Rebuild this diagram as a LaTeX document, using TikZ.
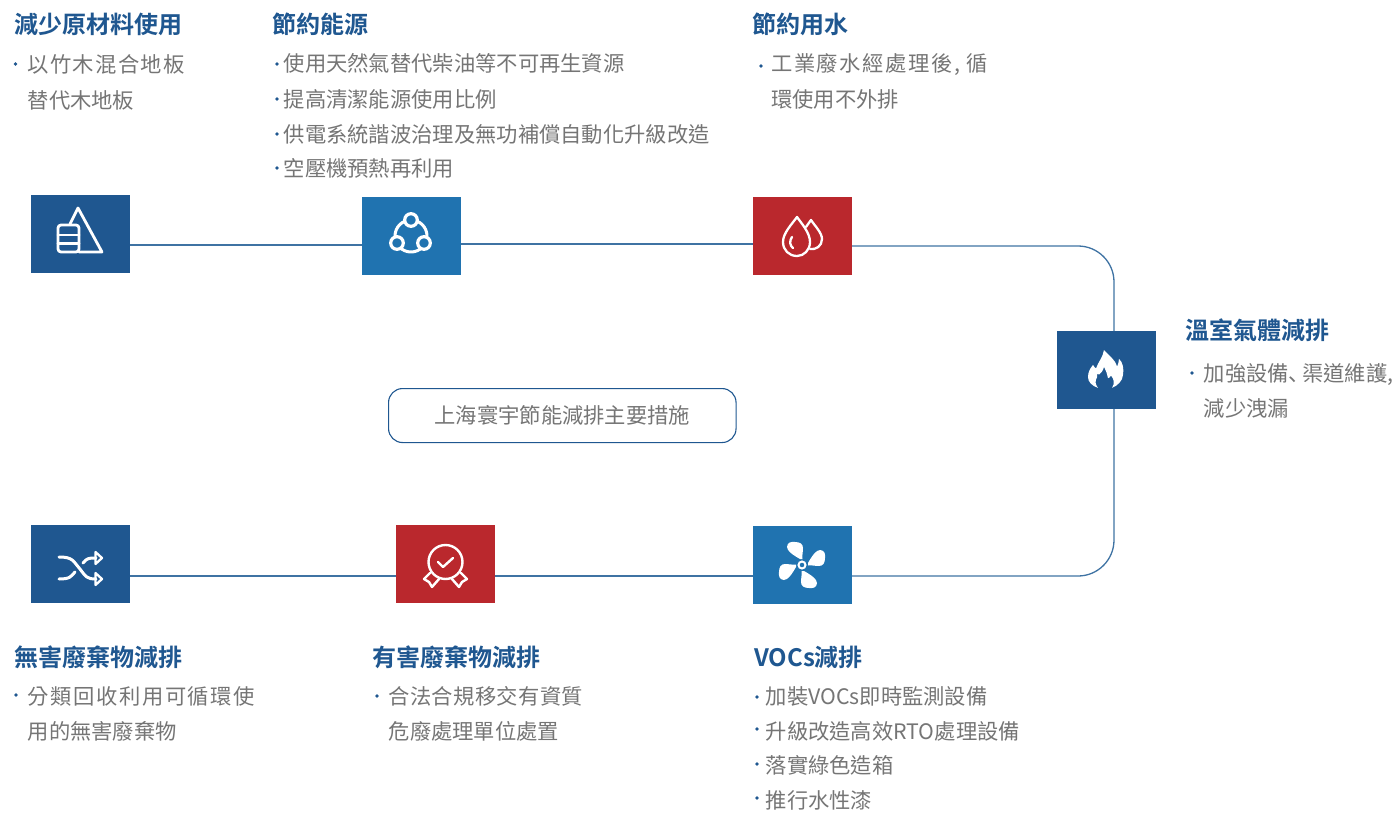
\documentclass[tikz,border=0pt]{standalone}
\usepackage{fontspec}
\setmainfont{Noto Sans CJK TC}[BoldFont={Noto Sans CJK TC Bold}]
\newfontfamily\scfont{Noto Sans CJK SC}
\definecolor{navy}{HTML}{1F5790}
\definecolor{midblue}{HTML}{2073B0}
\definecolor{brick}{HTML}{BA282D}
\definecolor{linec}{HTML}{3F73A3}
\definecolor{bodyc}{HTML}{757575}
\tikzset{
 ibox/.style={minimum width=99pt,minimum height=78pt,inner sep=0,outer sep=0,anchor=north west},
 conn/.style={draw=linec,line width=1.3pt},
 ttl/.style={anchor=base west,inner sep=0,text=navy,font=\fontsize{24}{24}\selectfont\bfseries},
 bd/.style={anchor=base west,inner sep=0,text=bodyc,font=\fontsize{21.3}{21.3}\selectfont},
 dotb/.style={fill=navy,draw=none,circle,minimum size=3.6pt,inner sep=0},
 ico/.style={draw=white,line width=2.8pt,line join=round,line cap=round},
}
\begin{document}
\begin{tikzpicture}[x=1pt,y=-1pt]
\useasboundingbox (0,0) rectangle (1395,816);
% boxes
\node[ibox,fill=navy] (a) at (31,195) {};
\node[ibox,fill=midblue] (b) at (362,197) {};
\node[ibox,fill=brick] (c) at (753,197) {};
\node[ibox,fill=navy] (d) at (1057,331) {};
\node[ibox,fill=midblue] (e) at (753,526) {};
\node[ibox,fill=brick] (f) at (396,525) {};
\node[ibox,fill=navy] (g) at (31,525) {};
\coordinate (cr1) at (1114,246);
\coordinate (cr2) at (1114,576);
% connectors
\draw[conn] (a.east |- 0,245) -- (b.west |- 0,245);
\draw[conn] (b.east |- 0,244) -- (c.west |- 0,244);
\draw[conn,rounded corners=36pt] (c.east |- 0,246) -- (cr1) -- (cr1 |- d.north);
\draw[conn,rounded corners=36pt] (cr2 |- d.south) -- (cr2) -- (e.east |- 0,576);
\draw[conn] (e.west |- 0,576) -- (f.east |- 0,576);
\draw[conn] (f.west |- 0,576) -- (g.east |- 0,576);
% icon a
\begin{scope}[shift={(31,195)}]
\draw[ico] (39,29) -- (47,13) -- (71,57) -- (48,57);
\draw[ico,rounded corners=3pt] (27,30) rectangle (48,57);
\draw[ico] (27,40) -- (48,40) (27,48.5) -- (48,48.5);
\end{scope}
% icon b
\begin{scope}[shift={(362,197)}]
\draw[ico,line width=3pt] (49,39) circle (16pt);
\draw[ico,fill=midblue,line width=3.2pt] (49,23) circle (6.3pt);
\draw[ico,fill=midblue,line width=3.2pt] (35,46) circle (6.3pt);
\draw[ico,fill=midblue,line width=3.2pt] (62,46) circle (6.3pt);
\end{scope}
% icon c
\begin{scope}[shift={(753,197)}]
\draw[ico,line width=2.3pt] (44,20) .. controls (49,27) and (57,36) .. (57,45) .. controls (57,53) and (51,59) .. (44,59) .. controls (36,59) and (30,53) .. (30,45) .. controls (30,36) and (39,27) .. (44,20) -- cycle;
\draw[ico,line width=2.3pt] (53,30) -- (58,23) .. controls (62,29) and (69,36) .. (69,42) .. controls (69,49) and (63,53) .. (57,52);
\draw[ico,line width=2.3pt] (39,40) .. controls (36,44) and (37,49) .. (40,51);
\end{scope}
% icon d flame
\begin{scope}[shift={(1057,331)},shift={(0,19)},yscale=.88,shift={(0,-19)}]
\fill[white] (47,19) .. controls (52,26) and (58,29) .. (60,38) .. controls (61,35) and (62,33) .. (62,29) .. controls (66,33) and (67,41) .. (66,47) .. controls (66,54) and (60,60) .. (55,62) .. controls (58,57) and (57,52) .. (54,48) .. controls (53,50) and (52,51) .. (51,51) .. controls (50,46) and (49,42) .. (47,38) .. controls (46,43) and (44,45) .. (42,47) .. controls (40,44) and (40,48) .. (40,50) .. controls (38,54) and (38,58) .. (41,62) .. controls (35,60) and (31,55) .. (31,50) .. controls (31,44) and (33,40) .. (36,36) .. controls (37,38) and (38,39) .. (39,40) .. controls (41,33) and (46,27) .. (47,19) -- cycle;
\end{scope}
% icon e fan
\begin{scope}[shift={(753,526)}]
\foreach \r in {0,90,180,270}{
\fill[white,rotate around={\r:(49,39)}] (47,33) .. controls (40,29) and (34,25) .. (34,21) .. controls (34,16) and (39,15.5) .. (42,16) .. controls (47,16) and (50,18) .. (50,22) .. controls (50,26) and (49,29) .. (49.5,33) -- cycle;
}
\draw[white,line width=2pt] (49,39) circle (3.5pt);
\end{scope}
% icon f award
\begin{scope}[shift={(396,525)}]
\draw[ico,line width=2.4pt] (49.5,37) circle (17pt);
\draw[ico,line width=2.4pt] (42,37) -- (47,42) -- (57,33);
\draw[ico,line width=2.4pt] (34,48) -- (28,54) -- (33,57) -- (36,62) -- (43,54);
\draw[ico,line width=2.4pt] (65,48) -- (71,54) -- (66,57) -- (63,62) -- (56,54);
\end{scope}
% icon g shuffle
\begin{scope}[shift={(31,525)}]
\draw[ico,line width=3pt] (28,32) .. controls (42,32) and (42,36) .. (49,44) .. controls (55,52) and (56,54) .. (65,54);
\draw[ico,line width=3pt] (28,54) .. controls (40,54) and (40,51) .. (44,47);
\draw[ico,line width=3pt] (52,38) .. controls (56,33) and (58,33) .. (65,33);
\draw[ico,line width=2.3pt] (64.5,27) -- (71,33) -- (64.5,39) -- cycle;
\draw[ico,line width=2.3pt] (64.5,48) -- (71,54) -- (64.5,60) -- cycle;
\end{scope}
% center label
\node[draw=navy,line width=1.1pt,rounded corners=14pt,minimum width=347.5pt,minimum height=54pt,inner sep=0,anchor=north west,text=bodyc,font=\fontsize{21.3}{21.3}\selectfont] (lbl) at (388,388) {上海寰宇節能減排主要措施};
% titles
\node[ttl] (t1) at (14,34) {減少原材料使用};
\node[ttl] (t2) at (272.5,34) {節約能源};
\node[ttl] (t3) at (752,34) {節約用水};
\node[ttl] (t4) at (1185,339) {溫室氣體減排};
\node[ttl] (t5) at (14,666) {無害廢棄物減排};
\node[ttl] (t6) at (372.5,666) {有害廢棄物減排};
\node[ttl] (t7) at (754,666) {VOCs減排};
% body
\node[dotb] at (15.5,64) {};
\node[bd] (a1) at (27.5,73) {\addfontfeature{LetterSpace=6}以竹木混合地板};
\node[bd] (a2) at (27.5,108) {替代木地板};
\foreach \y/\t [count=\i] in {72/使用天然氣替代柴油等不可再生資源,107/提高清潔能源使用比例,142/供電系統諧波治理及無功補償自動化升級改造,176/空壓機預熱再利用}{
 \node[dotb] at (277,\y-8) {};
 \node[bd] (b\i) at (283.5,\y) {\t};
}
\node[dotb] at (761,66) {};
\node[bd] (c1) at (771,72) {\addfontfeature{LetterSpace=7.5}工業廢水經處理後, 循};
\node[bd] (c2) at (771,107) {環使用不外排};
\node[dotb] at (1192,373) {};
\node[bd] (d1) at (1203.5,381) {加強設備{\scfont 、}\kern-8pt 渠道維護,};
\node[bd] (d2) at (1203.5,416) {減少洩漏};
\node[dotb] at (16,695) {};
\node[bd] (g1) at (27.5,704) {\addfontfeature{LetterSpace=7.5}分類回收利用可循環使};
\node[bd] (g2) at (27.5,739) {用的無害廢棄物};
\node[dotb] at (377,696) {};
\node[bd] (f1) at (388.5,704) {\addfontfeature{LetterSpace=1.5}合法合規移交有資質};
\node[bd] (f2) at (388.5,739) {危廢處理單位處置};
\foreach \y/\t/\dy [count=\i] in {704/加裝VOCs即時監測設備/697,739/升級改造高效RTO處理設備/729,773/落實綠色造箱/764,808/推行水性漆/798}{
 \node[dotb] at (757,\dy) {};
 \node[bd] (e\i) at (765.5,\y) {\t};
}
\end{tikzpicture}
\end{document}
